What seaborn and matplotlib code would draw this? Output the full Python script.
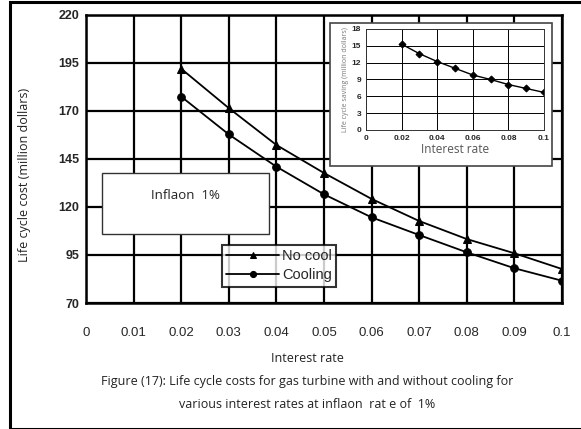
import matplotlib
matplotlib.use("Agg")
import matplotlib.pyplot as plt
import seaborn as sns
import pandas as pd
from matplotlib.patches import Rectangle

rates = [0.02, 0.03, 0.04, 0.05, 0.06, 0.07, 0.08, 0.09, 0.10]
no_cool = [192, 171.5, 152.3, 137.7, 124.2, 112.7, 103.3, 95.9, 87.7]
cooling = [177.5, 157.8, 141.0, 126.6, 114.6, 105.4, 96.4, 88.1, 81.6]
saving = [15.3, 13.6, 12.2, 11.0, 9.8, 9.0, 8.1, 7.4, 6.7]
x_ticks = [0, 0.01, 0.02, 0.03, 0.04, 0.05, 0.06, 0.07, 0.08, 0.09, 0.1]
x_tick_labels = ["0", "0.01", "0.02", "0.03", "0.04", "0.05", "0.06", "0.07", "0.08", "0.09", "0.1"]
y_ticks = [70, 95, 120, 145, 170, 195, 220]
in_x_ticks = [0, 0.02, 0.04, 0.06, 0.08, 0.1]
in_x_labels = ["0", "0.02", "0.04", "0.06", "0.08", "0.1"]
in_y_ticks = [0, 3, 6, 9, 12, 15, 18]

sns.set_style("white")
plt.rcParams['font.family'] = ['Liberation Sans', 'DejaVu Sans']

df = pd.DataFrame({
    "rate": rates * 2,
    "cost": no_cool + cooling,
    "series": ["No cool"] * len(rates) + ["Cooling"] * len(rates),
})

fig = plt.figure(figsize=(5.81, 4.29), dpi=100)

# outer frame
fig.patches.append(Rectangle((10/581, 0.5/429), 1.0, 1 - 2/429, transform=fig.transFigure,
                             fill=False, edgecolor="black", linewidth=2.2))

ax = fig.add_axes([86/581, 1 - 303/429, 476/581, 288/429])
sns.lineplot(data=df, x="rate", y="cost", hue="series", style="series",
             markers={"No cool": "^", "Cooling": "o"}, dashes=False,
             palette={"No cool": "black", "Cooling": "black"},
             markersize=5.5, linewidth=1.3, markeredgecolor="black", ax=ax)
ax.set_xlim(0, 0.1)
ax.set_ylim(70, 220)
ax.set_xticks(x_ticks)
ax.set_xticklabels(x_tick_labels, fontsize=9.5)
ax.set_yticks(y_ticks)
ax.set_yticklabels([str(v) for v in y_ticks], fontsize=9, fontweight="bold")
ax.tick_params(axis="x", pad=17, length=0)
ax.tick_params(axis="y", pad=5, length=0)
ax.grid(True, color="black", linewidth=1.6)
for s in ax.spines.values():
    s.set_linewidth(1.8)
    s.set_color("black")
ax.set_xlabel("")
ax.set_ylabel("")
leg = ax.get_legend()
if leg:
    leg.remove()

handles, labels = ax.get_legend_handles_labels()
lg = fig.legend(handles, labels, loc="upper left", bbox_to_anchor=(222/581, 1 - 245/429),
                frameon=True, fancybox=False, edgecolor="black", fontsize=10.5,
                handlelength=3.6, handletextpad=0.2, borderpad=0.3, labelspacing=0.35,
                borderaxespad=0, markerscale=0.8)
lg.get_frame().set_linewidth(1.5)

# Inflation box
fig.patches.append(Rectangle((102/581, 1 - 234/429), 167/581, 61/429, transform=fig.transFigure,
                             facecolor="white", edgecolor="#333333", linewidth=1.0, zorder=5))
fig.text(185/581, 1 - 195/429, "Inflaon  1%", ha="center", va="center", fontsize=9.5,
         family=["Open Sans", "DejaVu Sans"], color="#222222", zorder=6)

fig.text(25/581, 1 - 175/429, "Life cycle cost (million dollars)", rotation=90, ha="center",
         va="center", fontsize=9, family=["Open Sans", "DejaVu Sans"], color="#222222")
fig.text(307/581, 1 - 358/429, "Interest rate", ha="center", va="center", fontsize=9,
         family=["Open Sans", "DejaVu Sans"], color="#222222")
fig.text(307/581, 1 - 382/429, "Figure (17): Life cycle costs for gas turbine with and without cooling for",
         ha="center", va="center", fontsize=9, family=["Open Sans", "DejaVu Sans"], color="#222222")
fig.text(307/581, 1 - 405/429, "various interest rates at inflaon  rat e of  1%",
         ha="center", va="center", fontsize=9, family=["Open Sans", "DejaVu Sans"], color="#222222")

# Inset box
fig.patches.append(Rectangle((330/581, 1 - 166/429), 222/581, 143/429, transform=fig.transFigure,
                             facecolor="white", edgecolor="#444444", linewidth=1.2, zorder=3))
axi = fig.add_axes([366/581, 1 - 130/429, 178/581, 101/429], zorder=4)
sns.lineplot(x=rates, y=saving, marker="D", markersize=3.5, color="black", linewidth=1.0,
             markeredgecolor="black", ax=axi)
axi.set_xlim(0, 0.1)
axi.set_ylim(0, 18)
axi.set_xticks(in_x_ticks)
axi.set_xticklabels(in_x_labels, fontsize=6, fontweight="bold")
axi.set_yticks(in_y_ticks)
axi.set_yticklabels([str(v) for v in in_y_ticks], fontsize=6, fontweight="bold")
axi.tick_params(axis="both", length=2, width=0.6, pad=1.5)
axi.grid(True, color="black", linewidth=0.7)
for s in axi.spines.values():
    s.set_linewidth(0.7)
    s.set_color("#333333")
axi.set_xlabel("Interest rate", fontsize=8.5, color="#555555", labelpad=1,
               family=["Open Sans", "DejaVu Sans"])
axi.set_ylabel("Life cycle saving (million dollars)", fontsize=5, color="#777777", labelpad=2,
               family=["Open Sans", "DejaVu Sans"])

fig.savefig("out.png", dpi=100)
